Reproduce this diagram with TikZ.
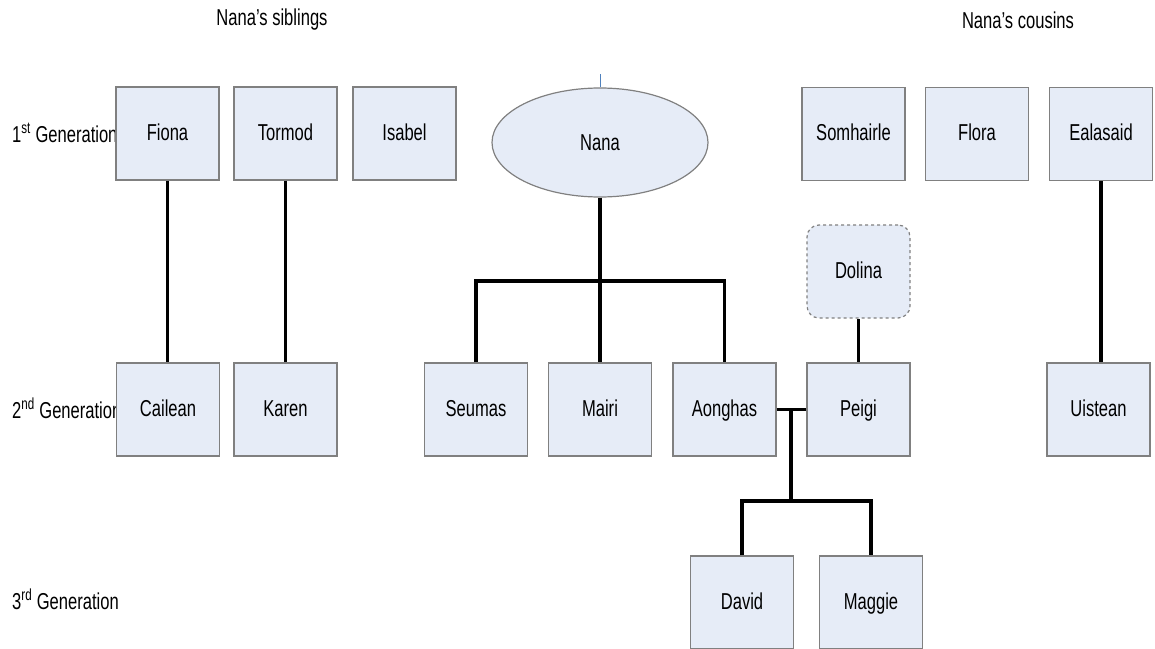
\documentclass[tikz,border=0pt]{standalone}
\usepackage{fontspec}
\setmainfont{Liberation Sans}[FakeStretch=0.72]
\usetikzlibrary{shapes.geometric}
\definecolor{boxfill}{RGB}{230,236,247}
\definecolor{boxline}{RGB}{128,128,128}
\definecolor{stubblue}{RGB}{79,129,189}
\tikzset{
  person/.style={draw=boxline,fill=boxfill,line width=1.2pt,minimum width=103pt,minimum height=93pt,inner sep=0pt,text height=16pt,text depth=3pt},
  kin/.style={line width=3.5pt},
  words/.style={font=\fontsize{23}{27}\selectfont}
}
\begin{document}
\begin{tikzpicture}[x=1pt,y=-1pt,words,every node/.style={words}]
\useasboundingbox (0,0) rectangle (1155,648);
% headings
\node (sibs) at (272,20) {Nana’s siblings};
\node (cous) at (1018,20) {Nana’s cousins};
\node[anchor=west,inner sep=0pt] (gen1) at (12,133) {1\textsuperscript{st} Generation};
\node[anchor=west,inner sep=0pt] (gen2) at (12,408) {2\textsuperscript{nd} Generation};
\node[anchor=west,inner sep=0pt] (gen3) at (12,599) {3\textsuperscript{rd} Generation};
% first generation
\node[person] (fiona) at (167.5,133.5) {Fiona};
\node[person] (tormod) at (285.5,133.5) {Tormod};
\node[person] (isabel) at (404.5,133.5) {Isabel};
\node[ellipse,draw=boxline,fill=boxfill,line width=1.2pt,minimum width=216pt,minimum height=109pt,inner sep=0pt] (nana) at (600,142.5) {Nana};
\node[person] (somhairle) at (853.5,134) {Somhairle};
\node[person] (flora) at (977,134) {Flora};
\node[person] (ealasaid) at (1101,134) {Ealasaid};
\node[person,dashed,rounded corners=12pt] (dolina) at (858.5,271.5) {Dolina};
% second generation
\node[person] (cailean) at (168,409.5) {Cailean};
\node[person] (karen) at (285.5,409.5) {Karen};
\node[person] (seumas) at (476,409.5) {Seumas};
\node[person] (mairi) at (600,409.5) {Mairi};
\node[person] (aonghas) at (724.5,409.5) {Aonghas};
\node[person] (peigi) at (858.5,409.5) {Peigi};
\node[person] (uistean) at (1098.5,409.5) {Uistean};
% third generation
\node[person] (david) at (742,602.5) {David};
\node[person] (maggie) at (871,602.5) {Maggie};
% lines
\coordinate (stub) at (600,74);
\coordinate (sibbar) at (600,281);
\coordinate (wed) at (791,409.5);
\coordinate (kidbar) at (791,501);
\draw[stubblue,line width=0.8pt] (stub)--(nana.north);
\draw[kin] (fiona.south)--(fiona.south|-cailean.north);
\draw[kin] (tormod.south)--(tormod.south|-karen.north);
\draw[kin] (nana.south)--(mairi.north);
\draw[kin] (seumas.north)|-(sibbar)-|(aonghas.north);
\draw[kin] (dolina.south)--(peigi.north);
\draw[kin] (aonghas.east)--(peigi.west);
\draw[kin] (wed)--(kidbar);
\draw[kin] (david.north)|-(kidbar)-|(maggie.north);
\draw[kin] (ealasaid.south)--(ealasaid.south|-uistean.north);
\end{tikzpicture}
\end{document}
